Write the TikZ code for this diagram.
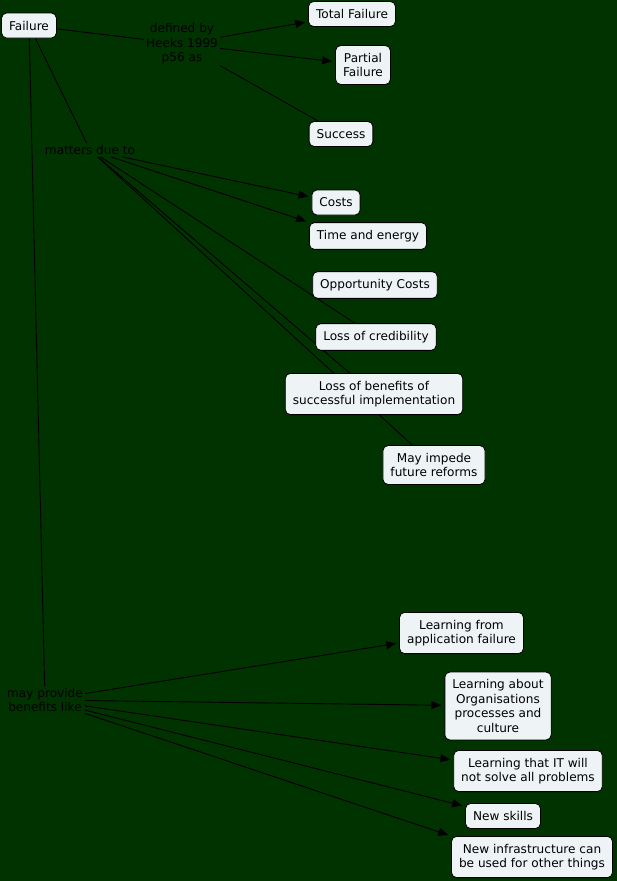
\documentclass[tikz,border=0pt]{standalone}
\usepackage{fontspec}
\setmainfont{DejaVu Sans}
\usetikzlibrary{arrows.meta,backgrounds}
\definecolor{bggreen}{RGB}{0,51,0}
\definecolor{conceptfill}{RGB}{238,243,246}
\begin{document}
\begin{tikzpicture}[x=1pt,y=-1pt,
  concept/.style={draw=black, line width=0.8pt, fill=conceptfill, rounded corners=5pt,
    align=center, inner xsep=7.5pt, inner ysep=7.5pt, minimum height=25pt,
    font=\fontsize{12.1}{14.5}\selectfont},
  linkphrase/.style={align=center, inner sep=2pt, text=black,
    font=\fontsize{12.1}{14.5}\selectfont},
  conn/.style={draw=black, line width=0.9pt},
  arr/.style={conn, -{Triangle[length=10pt,width=8pt]}, shorten >=3pt}]
\useasboundingbox (0,0) rectangle (617,881);
% concepts
\node[concept] (failure) at (29,25.5) {Failure};
\node[concept] (total) at (352,14) {Total Failure};
\node[concept] (partial) at (363,65) {Partial\\Failure};
\node[concept] (success) at (341,134) {Success};
\node[linkphrase] (defined) at (182,44) {defined by\\Heeks 1999\\p56 as};
\node[linkphrase] (matters) at (90,150) {matters due to};
\node[concept] (costs) at (336,202.5) {Costs};
\node[concept] (time) at (368,236) {Time and energy};
\node[concept] (opp) at (375,285) {Opportunity Costs};
\node[concept] (cred) at (376,337) {Loss of credibility};
\node[concept] (benefits) at (374,394) {Loss of benefits of\\successful implementation};
\node[concept] (impede) at (434,465) {May impede\\future reforms};
\node[linkphrase] (mayprov) at (45,700) {may provide\\benefits like};
\node[concept] (lfrom) at (461.5,633) {Learning from\\application failure};
\node[concept] (labout) at (498,706) {Learning about\\Organisations\\processes and\\culture};
\node[concept] (lit) at (528,771) {Learning that IT will\\not solve all problems};
\node[concept] (skills) at (503,816) {New skills};
\node[concept] (infra) at (532,857) {New infrastructure can\\be used for other things};
% connectors
\begin{scope}[on background layer]
\fill[bggreen] (0,0) rectangle (617,881);
\draw[conn] (failure) -- (defined);
\draw[arr] (defined) -- (total);
\draw[arr] (defined) -- (partial);
\draw[conn] (defined) -- (success);
\draw[conn] (failure) -- (matters);
\draw[arr] (matters) -- (costs);
\draw[arr] (matters) -- (time.north west);
\draw[conn] (matters) -- (cred);
\draw[conn] (matters) -- (benefits);
\draw[conn] (matters) -- (impede);
\draw[conn] (failure) -- (mayprov);
\draw[arr] (mayprov) -- (lfrom);
\draw[arr] (mayprov) -- (labout);
\draw[arr] (mayprov) -- (lit);
\draw[arr] (mayprov) -- (skills);
\draw[arr] (mayprov) -- (infra.north west);
\end{scope}
\end{tikzpicture}
\end{document}
